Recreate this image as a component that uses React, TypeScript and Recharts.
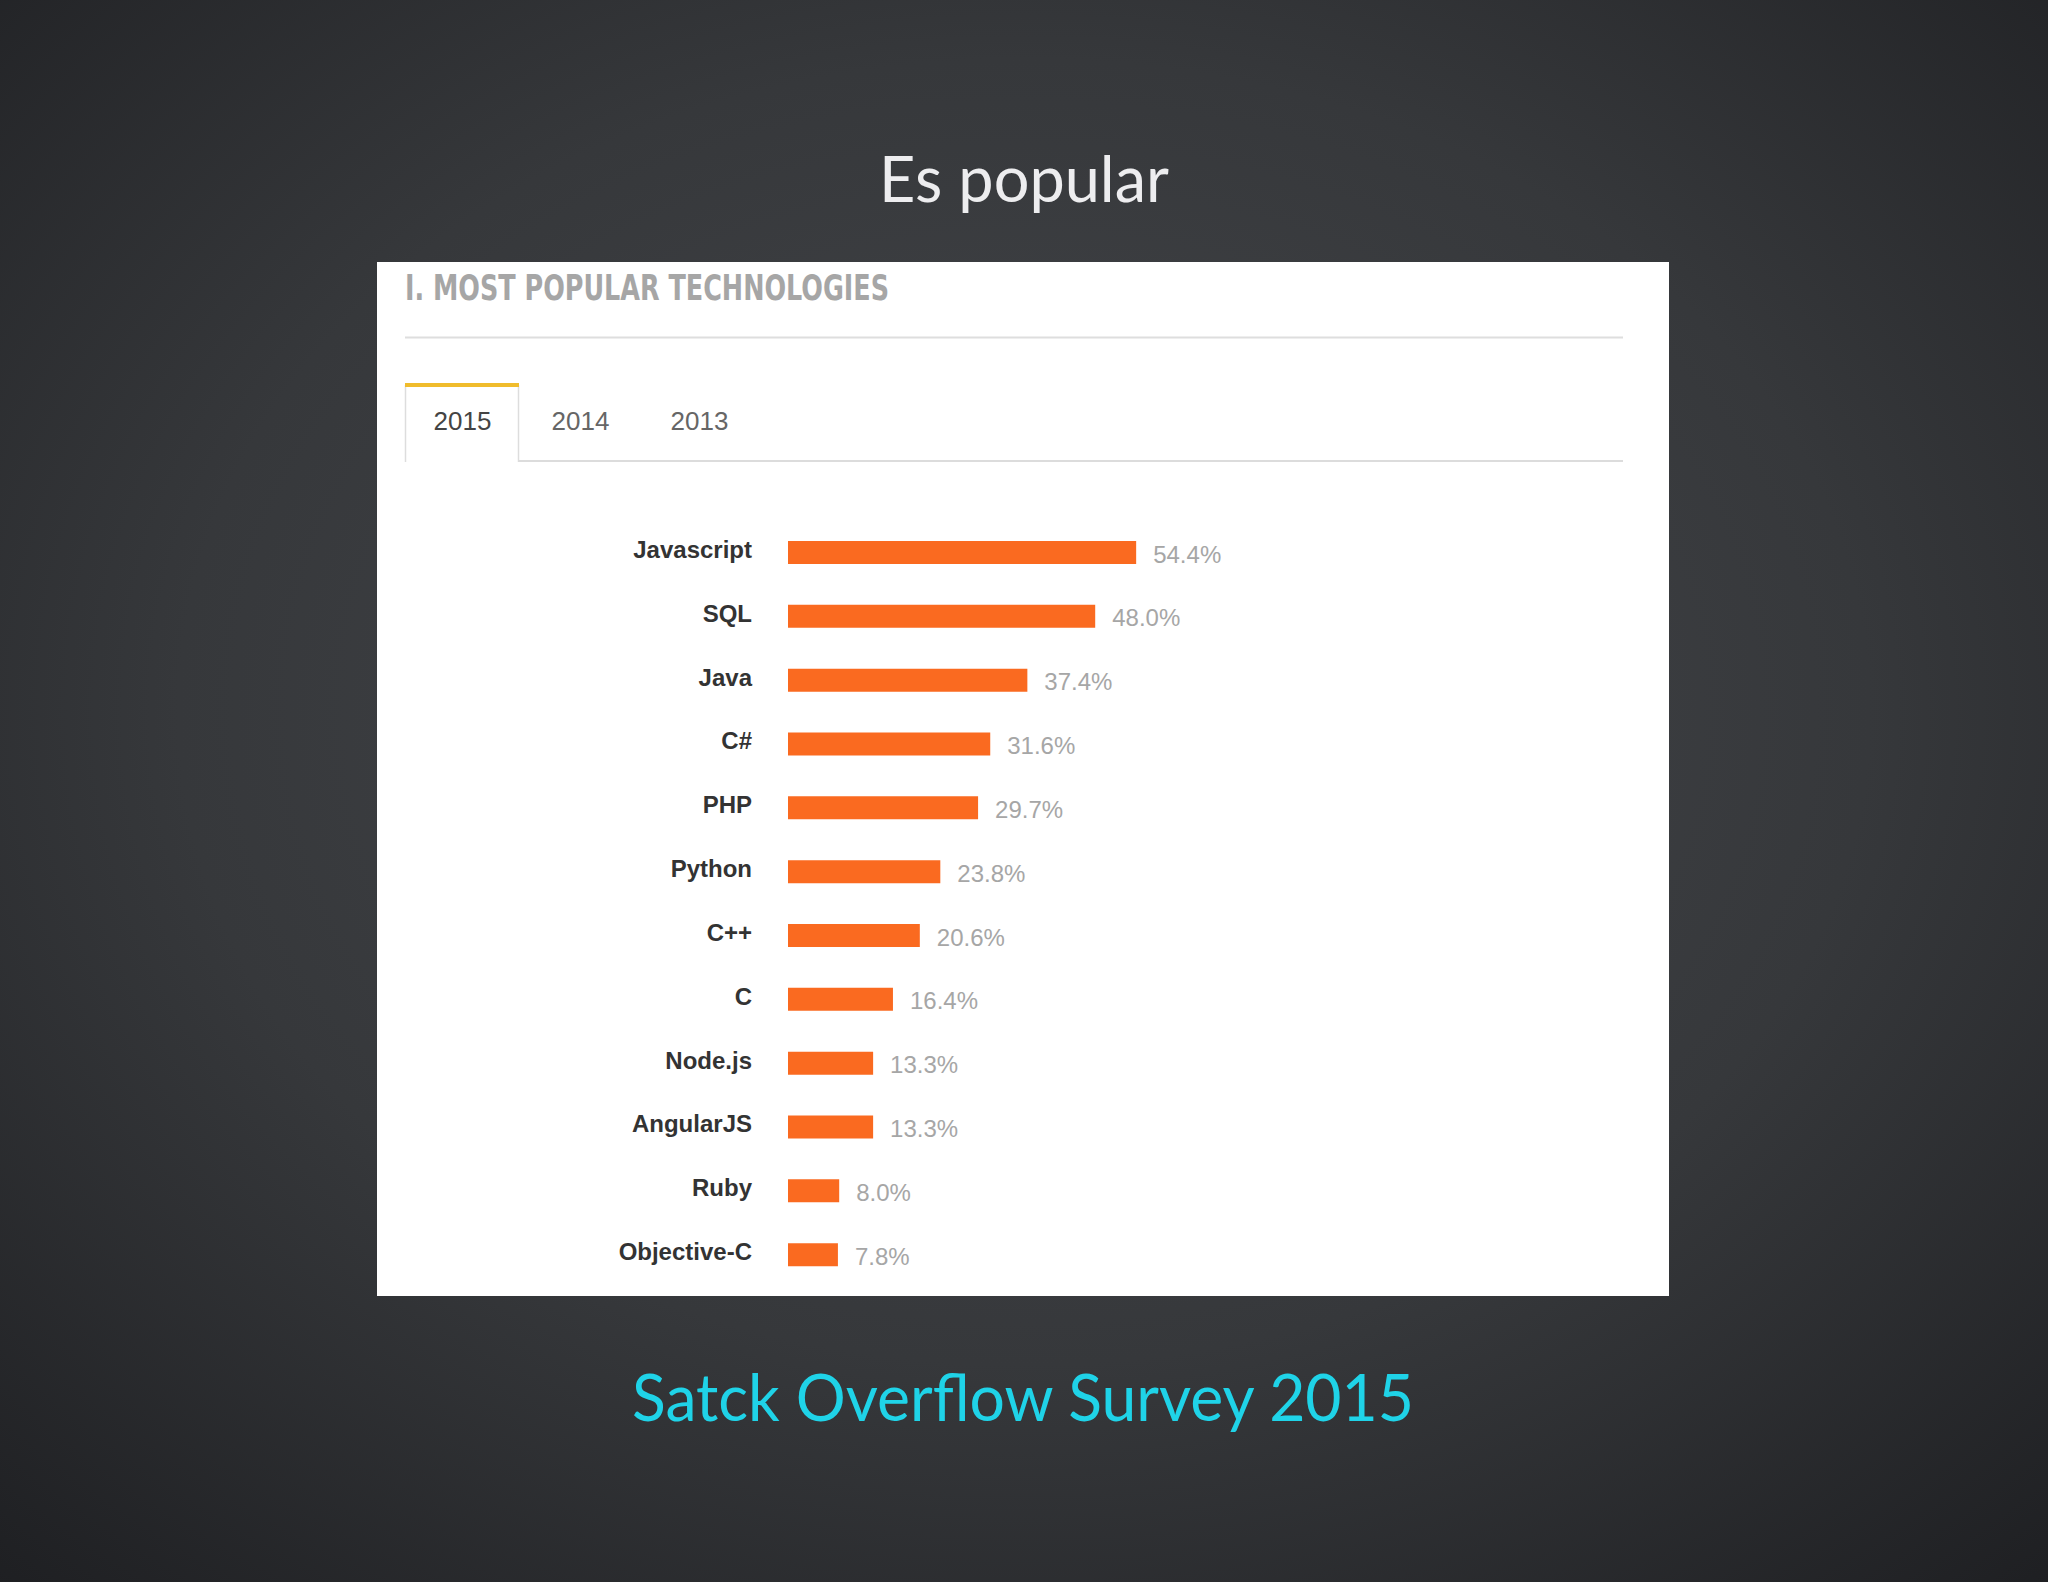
import { BarChart, Bar, XAxis, YAxis, LabelList } from 'recharts'

const languages = ['Javascript', 'SQL', 'Java', 'C#', 'PHP', 'Python', 'C++', 'C', 'Node.js', 'AngularJS', 'Ruby', 'Objective-C']
const shares = [54.4, 48.0, 37.4, 31.6, 29.7, 23.8, 20.6, 16.4, 13.3, 13.3, 8.0, 7.8]
const years = ['2015', '2014', '2013']

const data = languages.map((name, i) => ({ name, value: shares[i] }))

const sans = 'Arial, "Liberation Sans", Helvetica, sans-serif'

function LangTick(props: any) {
  const { x, y, payload } = props
  return (
    <text x={x} y={y} dy={5} textAnchor="end" fontFamily={sans} fontSize={24} fontWeight="bold" fill="#333">
      {payload.value}
    </text>
  )
}

function ValueLabel(props: any) {
  const { x, y, width, height, value } = props
  return (
    <text x={x + width + 17} y={y + height / 2 + 10} fontFamily={sans} fontSize={24} fill="#a6a6a6">
      {Number(value).toFixed(1)}%
    </text>
  )
}

export default function App() {
  return (
    <div style={{ position: 'absolute', left: 0, top: 0, width: 2048, height: 1582, overflow: 'hidden' }}>
      <svg width={2048} height={1582} style={{ position: 'absolute', left: 0, top: 0 }}>
        <defs>
          <radialGradient id="bg" cx="50%" cy="45%" r="75%">
            <stop offset="0%" stopColor="#45474b" />
            <stop offset="55%" stopColor="#36383b" />
            <stop offset="100%" stopColor="#1e1f22" />
          </radialGradient>
        </defs>
        <rect x={0} y={0} width={2048} height={1582} fill="url(#bg)" />
        <text x={1024} y={202} textAnchor="middle" fontFamily="Lato" fontSize={63} fill="#ededef">
          Es popular
        </text>

        <rect x={377} y={262} width={1292} height={1034} fill="#ffffff" />
        <text
          x={405}
          y={300}
          fontFamily='"Liberation Sans Narrow", "DejaVu Sans Condensed", sans-serif'
          fontWeight="bold"
          fontSize={35}
          fill="#a6a6a6"
          textLength={484}
          lengthAdjust="spacingAndGlyphs"
        >
          I. MOST POPULAR TECHNOLOGIES
        </text>
        <line x1={405} x2={1623} y1={337.5} y2={337.5} stroke="#dedede" strokeWidth={2} />

        <line x1={405.5} x2={405.5} y1={385} y2={462} stroke="#dddddd" strokeWidth={1.5} />
        <line x1={518.5} x2={518.5} y1={385} y2={462} stroke="#dddddd" strokeWidth={1.5} />
        <rect x={405} y={383} width={114} height={4} fill="#f0bc2c" />
        <line x1={518} x2={1623} y1={461} y2={461} stroke="#dcdcdc" strokeWidth={2} />
        {years.map((yr, i) => (
          <text
            key={yr}
            x={[462.5, 580.5, 699.5][i]}
            y={430}
            textAnchor="middle"
            fontFamily={sans}
            fontSize={26}
            fill={i === 0 ? '#444' : '#666'}
          >
            {yr}
          </text>
        ))}

        <text
          x={1023}
          y={1421}
          textAnchor="middle"
          fontFamily="Lato"
          fontSize={66}
          fill="#1fd3e8"
          textLength={782}
          lengthAdjust="spacingAndGlyphs"
        >
          Satck Overflow Survey 2015
        </text>
      </svg>

      <div style={{ position: 'absolute', left: 377, top: 521 }}>
        <BarChart width={1201} height={766} data={data} layout="vertical" margin={{ top: 0, right: 150, bottom: 0, left: 0 }}>
          <XAxis type="number" domain={[0, 100]} hide />
          <YAxis
            type="category"
            dataKey="name"
            width={411}
            tickSize={0}
            tickMargin={36}
            tickLine={false}
            axisLine={false}
            tick={<LangTick />}
            interval={0}
          />
          <Bar dataKey="value" fill="#fa6a20" barSize={23} isAnimationActive={false}>
            <LabelList dataKey="value" content={<ValueLabel />} />
          </Bar>
        </BarChart>
      </div>
    </div>
  )
}
